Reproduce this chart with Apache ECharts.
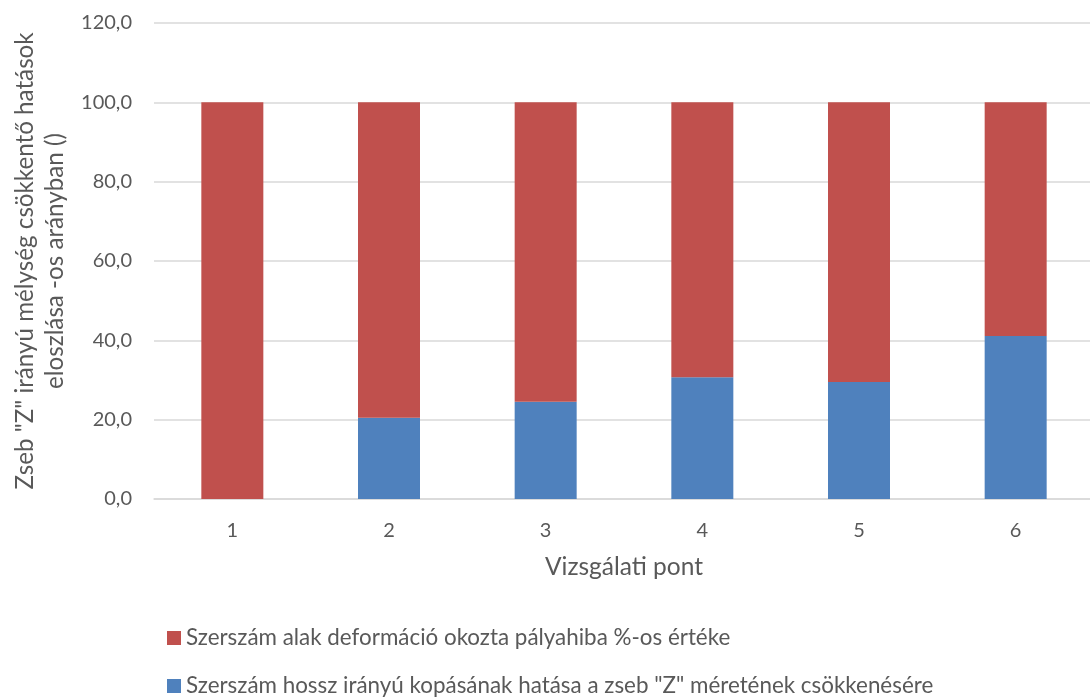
<!DOCTYPE html>
<html>
<head>
<meta charset="utf-8">
<script src="https://cdn.jsdelivr.net/npm/echarts@6/dist/echarts.min.js"></script>
<style>
html,body{margin:0;padding:0;background:#fff;}
#chart{width:1090px;height:697px;}
</style>
</head>
<body>
<div id="chart"></div>
<script>
const categories = ['1', '2', '3', '4', '5', '6'];
const wearValues = [0, 20.5, 24.5, 30.7, 29.5, 41.1];
const deformValues = [100, 79.5, 75.5, 69.3, 70.5, 58.9];
const wearName = 'Szerszám hossz irányú kopásának hatása a zseb "Z" méretének csökkenésére';
const deformName = 'Szerszám alak deformáció okozta pályahiba %-os értéke';
const yAxisTitle = 'Zseb "Z" irányú mélység csökkentő hatások\neloszlása -os arányban ()';
const xAxisTitle = 'Vizsgálati pont';

const FONT = 'Lato';
const chart = echarts.init(document.getElementById('chart'));
chart.setOption({
  animation: false,
  textStyle: { fontFamily: FONT },
  grid: { left: 154, right: -4, top: 23, bottom: 198, outerBoundsMode: 'none', containLabel: false },
  legend: {
    orient: 'vertical',
    left: 167,
    top: 627,
    padding: 0,
    itemWidth: 14,
    itemHeight: 14,
    itemGap: 26,
    icon: 'rect',
    data: [deformName, wearName],
    textStyle: { fontFamily: FONT, fontSize: 22.4, color: '#595959' }
  },
  xAxis: {
    type: 'category',
    data: categories,
    name: xAxisTitle,
    nameLocation: 'middle',
    nameGap: 56,
    nameTextStyle: { fontFamily: FONT, fontSize: 24.5, color: '#595959' },
    axisLine: { lineStyle: { color: '#d9d9d9', width: 1.5 } },
    axisTick: { show: false },
    axisLabel: { fontFamily: FONT, fontSize: 20, color: '#595959', margin: 22 }
  },
  yAxis: {
    type: 'value',
    min: 0,
    max: 120,
    interval: 20,
    name: yAxisTitle,
    nameLocation: 'middle',
    nameGap: 84,
    nameTextStyle: { fontFamily: FONT, fontSize: 24.2, color: '#595959', lineHeight: 30 },
    axisLine: { show: false },
    axisTick: { show: false },
    axisLabel: {
      fontFamily: FONT, fontSize: 20, color: '#595959', margin: 22,
      formatter: v => v.toFixed(1).replace('.', ',')
    },
    splitLine: { lineStyle: { color: '#d9d9d9', width: 1.5 } }
  },
  series: [
    {
      name: wearName,
      type: 'bar',
      stack: 'total',
      data: wearValues,
      barWidth: 62,
      itemStyle: { color: '#4F81BD' }
    },
    {
      name: deformName,
      type: 'bar',
      stack: 'total',
      data: deformValues,
      barWidth: 62,
      itemStyle: { color: '#C0504D' }
    }
  ]
});
</script>
</body>
</html>
